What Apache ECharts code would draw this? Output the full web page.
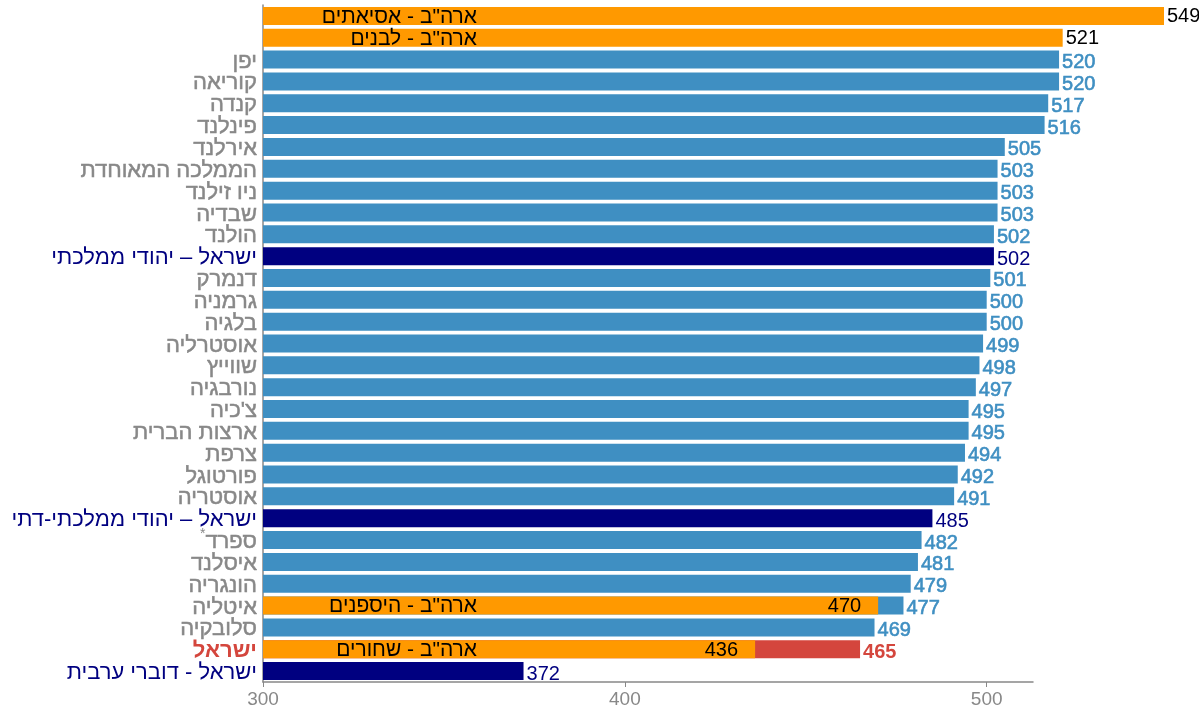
<!DOCTYPE html>
<html>
<head>
<meta charset="utf-8">
<script src="https://cdn.jsdelivr.net/npm/echarts@6/dist/echarts.min.js"></script>
<style>
  html, body { margin: 0; padding: 0; background: #fff; }
  #chart { width: 1199px; height: 710px; }
</style>
</head>
<body>
<div id="chart"></div>
<script>
// row names, top to bottom (US groups have no axis label, their name sits inside the bar)
const rowNames = [
  '', '',
  'יפן', 'קוריאה', 'קנדה', 'פינלנד', 'אירלנד', 'הממלכה המאוחדת', 'ניו זילנד', 'שבדיה', 'הולנד',
  'ישראל – יהודי ממלכתי',
  'דנמרק', 'גרמניה', 'בלגיה', 'אוסטרליה', 'שווייץ', 'נורבגיה', "צ'כיה", 'ארצות הברית', 'צרפת',
  'פורטוגל', 'אוסטריה',
  'ישראל – יהודי ממלכתי-דתי',
  'ספרד*', 'איסלנד', 'הונגריה', 'איטליה', 'סלובקיה',
  'ישראל',
  'ישראל - דוברי ערבית'
];
const scores = [
  549, 521,
  520, 520, 517, 516, 505, 503, 503, 503, 502,
  502,
  501, 500, 500, 499, 498, 497, 495, 495, 494,
  492, 491,
  485,
  482, 481, 479, 477, 469,
  465,
  372
];
// kind of each row: us / country / sub (Israel sub-group) / israel
const rowKinds = [
  'us', 'us',
  'country', 'country', 'country', 'country', 'country', 'country', 'country', 'country', 'country',
  'sub',
  'country', 'country', 'country', 'country', 'country', 'country', 'country', 'country', 'country',
  'country', 'country',
  'sub',
  'country', 'country', 'country', 'country', 'country',
  'israel',
  'sub'
];
// US sub-group bars laid over two rows
const overlayScores = [];
overlayScores[27] = 470;
overlayScores[29] = 436;
// names written inside the orange bars
const innerNames = [];
innerNames[0] = 'ארה"ב - אסיאתים';
innerNames[1] = 'ארה"ב - לבנים';
innerNames[27] = 'ארה"ב - היספנים';
innerNames[29] = 'ארה"ב - שחורים';
const xTicks = [300, 400, 500];

const BLUE = '#3f8fc2', ORANGE = '#ff9900', NAVY = '#000080', RED = '#d4463d', GRAY = '#888888';
const FONT = 'Liberation Sans, Arial, sans-serif';
const HEB = 22;

const barColor = { us: ORANGE, country: BLUE, sub: NAVY, israel: RED };

function valueLabel(kind) {
  if (kind === 'us') return { color: '#000', fontSize: 20, offset: [0, 1] };
  if (kind === 'sub') return { color: NAVY, fontSize: 20, offset: [0, 3] };
  if (kind === 'israel') return { color: RED, fontSize: 20, fontWeight: 'bold', offset: [0, 3] };
  return { color: BLUE, fontSize: 20, textBorderColor: BLUE, textBorderWidth: 0.6, offset: [0, 3] };
}

const mainData = scores.map((v, i) => ({
  value: v,
  itemStyle: { color: barColor[rowKinds[i]] },
  label: valueLabel(rowKinds[i])
}));

const overlayData = rowNames.map((n, i) => overlayScores[i] == null ? '-' : overlayScores[i]);

const nameData = rowNames.map((n, i) => innerNames[i] == null ? '-' : {
  value: scores[i],
  label: { formatter: innerNames[i] }
});

// same px-per-point scale in both grids: bars reach 549, the drawn axis stops earlier
const plotLeft = 263, barsRight = 35, axisRight = 166;
const pxPerPoint = (1199 - plotLeft - barsRight) / (549 - 300);
const axisMax = 300 + (1199 - plotLeft - axisRight) / pxPerPoint;

const chart = echarts.init(document.getElementById('chart'));
chart.setOption({
  animation: false,
  textStyle: { fontFamily: FONT },
  grid: [
    { left: plotLeft, right: barsRight, top: 5, bottom: 28 },
    { left: plotLeft, right: axisRight, top: 5, bottom: 28 }
  ],
  xAxis: [
    { type: 'value', gridIndex: 0, min: 300, max: 549, show: false },
    {
      type: 'value', gridIndex: 1,
      min: 300, max: axisMax, interval: 100,
      splitLine: { show: false },
      axisLine: { show: true, lineStyle: { color: GRAY, width: 1.5 } },
      axisTick: { show: true, length: 5, customValues: xTicks, lineStyle: { color: GRAY } },
      axisLabel: {
        color: GRAY, fontSize: 19, margin: 8, customValues: xTicks,
        formatter: v => (v % 100 === 0 ? String(v) : '')
      }
    }
  ],
  yAxis: [
    {
      type: 'category',
      gridIndex: 0,
      inverse: true,
      data: rowNames,
      z: 0,
      axisLine: { show: true, lineStyle: { color: GRAY, width: 1.5 } },
      axisTick: { show: false },
      axisLabel: {
        interval: 0,
        margin: 6,
        fontSize: HEB,
        color: GRAY,
        formatter: (v, i) => {
          const k = rowKinds[i];
          if (k === 'sub') return '{n|' + v + '}';
          if (k === 'israel') return '{r|' + v + '}';
          if (v.endsWith('*')) return '{s|*}{c|' + v.slice(0, -1) + '}';
          return '{c|' + v + '}';
        },
        rich: {
          c: { color: GRAY, fontSize: HEB, fontFamily: FONT, textBorderColor: GRAY, textBorderWidth: 0.5, padding: [4, 0, 0, 0] },
          n: { color: NAVY, fontSize: HEB, fontFamily: FONT, padding: [4, 0, 0, 0] },
          r: { color: RED, fontSize: HEB, fontWeight: 'bold', fontFamily: FONT, padding: [4, 0, 0, 0] },
          s: { color: GRAY, fontSize: 14, fontFamily: FONT, verticalAlign: 'top', lineHeight: 24 }
        }
      }
    },
    { type: 'category', gridIndex: 1, inverse: true, data: rowNames, show: false }
  ],
  series: [
    {
      type: 'bar',
      barWidth: 18,
      barGap: '-100%',
      data: mainData,
      label: { show: true, position: 'right', distance: 3, fontFamily: FONT }
    },
    {
      type: 'bar',
      barWidth: 18,
      barGap: '-100%',
      data: overlayData,
      itemStyle: { color: ORANGE },
      label: {
        show: true, position: 'insideRight', distance: 17,
        color: '#000', fontSize: 20, fontFamily: FONT, offset: [0, 1]
      }
    },
    {
      type: 'bar',
      barWidth: 18,
      barGap: '-100%',
      silent: true,
      data: nameData,
      itemStyle: { color: 'rgba(0,0,0,0)' },
      label: {
        show: true, position: [214, '50%'], align: 'right', verticalAlign: 'middle',
        color: '#000', fontSize: 21, fontFamily: FONT, offset: [0, 1]
      }
    }
  ]
});
</script>
</body>
</html>
